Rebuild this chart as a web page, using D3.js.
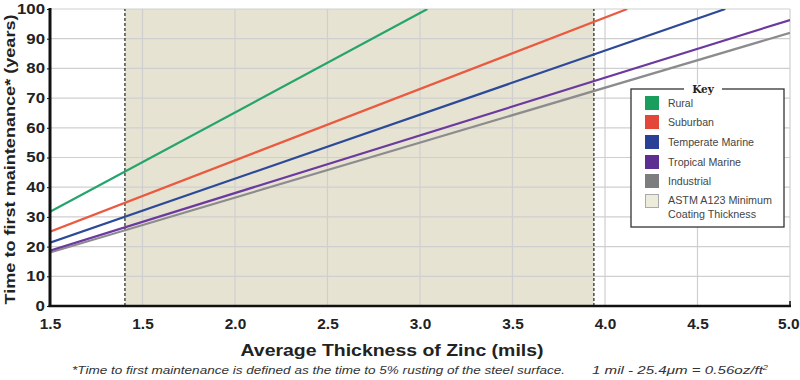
<!DOCTYPE html>
<html><head><meta charset="utf-8">
<script src="https://cdn.jsdelivr.net/npm/d3@7"></script>
<style>
body{margin:0;background:#fff;}
svg{display:block;font-family:"Liberation Sans",Arial,sans-serif;}
</style></head><body>
<svg id="chart" width="800" height="380"></svg>
<script>
// ---- data ----
const xTickValues = [1.0, 1.5, 2.0, 2.5, 3.0, 3.5, 4.0, 4.5, 5.0];
const xTickLabels = ["1.5", "1.5", "2.0", "2.5", "3.0", "3.5", "4.0", "4.5", "5.0"];
const yTickValues = [0, 10, 20, 30, 40, 50, 60, 70, 80, 90, 100];
const seriesNames = ["Rural", "Suburban", "Temperate Marine", "Tropical Marine", "Industrial"];
const seriesColors = ["#25a46c", "#ea5a40", "#2d4a98", "#6c3a9e", "#8c8c8e"];
const legendColors = ["#1a9e5e", "#e2473a", "#2a3f96", "#5e2d91", "#7d7d80"];
const ruralX = [1.0, 3.04], ruralY = [31.7, 100];
const suburbanX = [1.0, 4.12], suburbanY = [25.0, 100];
const temperateX = [1.0, 4.65], temperateY = [21.3, 100];
const tropicalX = [1.0, 5.0], tropicalY = [18.6, 96.3];
const industrialX = [1.0, 5.0], industrialY = [18.0, 92.0];
const astmMin = 1.405, astmMax = 3.94;
const legendShadeLabel = ["ASTM A123 Minimum", "Coating Thickness"];

const seriesX = [ruralX, suburbanX, temperateX, tropicalX, industrialX];
const seriesY = [ruralY, suburbanY, temperateY, tropicalY, industrialY];

// ---- layout / style ----
const legendTextW = [25, 46, 86, 73, 43];
const legendShadeW = [104, 88];

const svg = d3.select("#chart");
const x = d3.scaleLinear().domain([1, 5]).range([50, 790]);
const y = d3.scaleLinear().domain([0, 100]).range([306, 9]);

function widen(sel, k) {
  sel.each(function () {
    const w = this.getComputedTextLength();
    this.setAttribute("textLength", (w * k).toFixed(1));
    this.setAttribute("lengthAdjust", "spacingAndGlyphs");
  });
}
function fitW(sel, w) {
  sel.attr("textLength", w).attr("lengthAdjust", "spacingAndGlyphs");
}

const defs = svg.append("defs");
defs.append("clipPath").attr("id", "plotclip").append("rect")
  .attr("x", x(1)).attr("y", y(100)).attr("width", x(5) - x(1)).attr("height", y(0) - y(100));

// shaded ASTM band
svg.append("rect")
  .attr("x", x(astmMin)).attr("y", y(100))
  .attr("width", x(astmMax) - x(astmMin)).attr("height", y(0) - y(100))
  .attr("fill", "#e6e3d2");

// gridlines
svg.append("g").selectAll("line").data(yTickValues.filter(d => d > 0)).join("line")
  .attr("x1", x(1)).attr("x2", x(5)).attr("y1", d => y(d)).attr("y2", d => y(d))
  .attr("stroke", "#cfcfcf").attr("stroke-width", 1.2);
svg.append("g").selectAll("line").data(xTickValues.filter(d => d > 1)).join("line")
  .attr("x1", d => x(d)).attr("x2", d => x(d)).attr("y1", y(0)).attr("y2", y(100))
  .attr("stroke", "#cfcfcf").attr("stroke-width", 1.2);

// dashed boundaries
svg.append("g").selectAll("line").data([astmMin, astmMax]).join("line")
  .attr("x1", d => x(d)).attr("x2", d => x(d)).attr("y1", y(0)).attr("y2", y(100))
  .attr("stroke", "#222").attr("stroke-width", 1.2).attr("stroke-dasharray", "3,2");

// series lines
const line = d3.line().x(d => x(d[0])).y(d => y(d[1]));
const lg = svg.append("g").attr("clip-path", "url(#plotclip)");
[4, 3, 2, 1, 0].forEach(i => {
  lg.append("path")
    .datum(seriesX[i].map((v, j) => [v, seriesY[i][j]]))
    .attr("d", line).attr("fill", "none")
    .attr("stroke", seriesColors[i]).attr("stroke-width", 2.2);
});

// axes
const yAxis = d3.axisLeft(y).tickValues(yTickValues).tickSize(3).tickPadding(2);
const ya = svg.append("g").attr("transform", `translate(${x(1)},0)`).call(yAxis);
ya.select(".domain").remove();
ya.selectAll(".tick line").attr("stroke", "#111");
ya.selectAll("text").attr("font-size", 14).attr("font-weight", "bold").attr("fill", "#222");
widen(ya.selectAll("text"), 1.2);

const xAxis = d3.axisBottom(x).tickValues(xTickValues).tickSize(0).tickPadding(13)
  .tickFormat((d, i) => xTickLabels[i]);
const xa = svg.append("g").attr("transform", `translate(0,${y(0)})`).call(xAxis);
xa.select(".domain").remove();
xa.selectAll("text").attr("font-size", 14).attr("font-weight", "bold").attr("fill", "#222");
widen(xa.selectAll("text"), 1.1);
xa.selectAll(".tick").filter((d, i) => i === xTickValues.length - 1).select("text")
  .attr("text-anchor", "end").attr("dx", 9);

svg.append("line").attr("x1", x(1)).attr("x2", x(1)).attr("y1", y(100) - 1).attr("y2", y(0) + 1)
  .attr("stroke", "#111").attr("stroke-width", 3);
svg.append("line").attr("x1", x(1) - 1.5).attr("x2", x(5) + 1).attr("y1", y(0)).attr("y2", y(0))
  .attr("stroke", "#111").attr("stroke-width", 2.5);
svg.append("line").attr("x1", x(5)).attr("x2", x(5)).attr("y1", y(0)).attr("y2", y(0) - 5)
  .attr("stroke", "#111").attr("stroke-width", 1.5);

// axis titles
const yt = svg.append("text").attr("transform", `translate(15,${(y(0) + y(100)) / 2 + 2}) rotate(-90)`)
  .attr("text-anchor", "middle").attr("font-size", 14.5).attr("font-weight", "bold").attr("fill", "#222")
  .text("Time to first maintenance* (years)");
fitW(yt, 290);
const xt = svg.append("text").attr("x", 392).attr("y", 356).attr("text-anchor", "middle")
  .attr("font-size", 17).attr("font-weight", "bold").attr("fill", "#222")
  .text("Average Thickness of Zinc (mils)");
fitW(xt, 303);

// footnotes
const f1 = svg.append("text").attr("x", 72).attr("y", 374).attr("font-size", 11.5).attr("font-style", "italic").attr("fill", "#333")
  .text("*Time to first maintenance is defined as the time to 5% rusting of the steel surface.");
fitW(f1, 493);
const fn2 = svg.append("text").attr("x", 592).attr("y", 374).attr("font-size", 11.5).attr("font-style", "italic").attr("fill", "#333");
fn2.append("tspan").text("1 mil - 25.4μm = 0.56oz/ft");
fn2.append("tspan").attr("font-size", 7).attr("dy", -4).text("2");
fitW(fn2, 176);

// legend
const L = svg.append("g");
L.append("rect").attr("x", 631).attr("y", 89).attr("width", 153).attr("height", 138)
  .attr("fill", "#fff").attr("stroke", "#333").attr("stroke-width", 1.3);
L.append("rect").attr("x", 684).attr("y", 84).attr("width", 38).attr("height", 10).attr("fill", "#fff");
L.append("text").attr("x", 703).attr("y", 93).attr("text-anchor", "middle")
  .attr("font-family", "'DejaVu Serif','Liberation Serif',serif").attr("font-weight", "bold")
  .attr("font-size", 10.5).attr("fill", "#222").text("Key");
const itemY = [103, 122, 142, 162, 181];
seriesNames.forEach((n, i) => {
  L.append("rect").attr("x", 645).attr("y", itemY[i] - 7).attr("width", 14).attr("height", 14)
    .attr("fill", legendColors[i]);
  const t = L.append("text").attr("x", 668).attr("y", itemY[i] + 4).attr("font-size", 10.5).attr("fill", "#444").text(n);
  fitW(t, legendTextW[i]);
});
L.append("rect").attr("x", 645.5).attr("y", 194.5).attr("width", 13).attr("height", 13)
  .attr("fill", "#ecebdc").attr("stroke", "#aaa").attr("stroke-width", 1);
legendShadeLabel.forEach((t, j) => {
  const tt = L.append("text").attr("x", 668).attr("y", 204 + j * 14).attr("font-size", 10.5).attr("fill", "#444").text(t);
  fitW(tt, legendShadeW[j]);
});
</script>
</body></html>
